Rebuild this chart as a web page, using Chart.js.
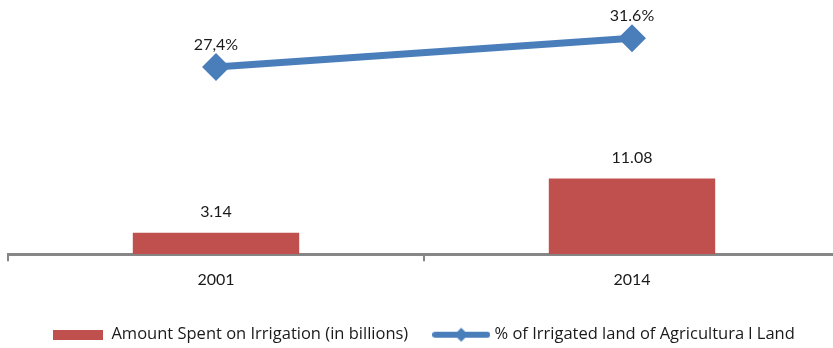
<!DOCTYPE html>
<html>
<head>
<meta charset="utf-8">
<script src="https://cdn.jsdelivr.net/npm/chart.js@4"></script>
<style>
  html, body { margin: 0; padding: 0; background: #fff; overflow: hidden; }
</style>
</head>
<body>
<canvas id="chart" width="848" height="348"></canvas>
<script>
const years = ['2001', '2014']
const spent = [3.14, 11.08]
const irrigatedPct = [27.4, 31.6]
const spentLabels = ['3.14', '11.08']
const pctLabels = ['27,4%', '31.6%']

const RED = '#C0504D'
const BLUE = '#4A7EBB'
const FONT = 'Lato, "Open Sans", sans-serif'
const LEGEND_FONT = '"Open Sans", Lato, sans-serif'

// legend icons
const barIcon = document.createElement('canvas')
barIcon.width = 50; barIcon.height = 10
let c = barIcon.getContext('2d')
c.fillStyle = RED
c.fillRect(0, 0, 50, 10)

const lineIcon = document.createElement('canvas')
lineIcon.width = 58; lineIcon.height = 16
c = lineIcon.getContext('2d')
c.strokeStyle = BLUE; c.lineWidth = 6; c.lineCap = 'round'
c.beginPath(); c.moveTo(3, 8); c.lineTo(55, 8); c.stroke()
c.fillStyle = BLUE
c.beginPath(); c.moveTo(29, 1); c.lineTo(36, 8); c.lineTo(29, 15); c.lineTo(22, 8); c.closePath(); c.fill()

const valueLabels = {
  id: 'valueLabels',
  afterDatasetsDraw(chart) {
    const ctx = chart.ctx
    ctx.save()
    ctx.font = '16px ' + FONT
    ctx.fillStyle = '#1a1a1a'
    ctx.textAlign = 'center'
    ctx.textBaseline = 'middle'
    chart.getDatasetMeta(0).data.forEach((el, i) => {
      ctx.fillText(spentLabels[i], el.x, el.y - 21)
    })
    chart.getDatasetMeta(1).data.forEach((el, i) => {
      ctx.fillText(pctLabels[i], el.x, el.y - 22)
    })
    ctx.restore()
  }
}

new Chart(document.getElementById('chart').getContext('2d'), {
  type: 'bar',
  data: {
    labels: years,
    datasets: [
      {
        label: 'Amount Spent on Irrigation (in billions)',
        data: spent,
        backgroundColor: RED,
        barPercentage: 0.4,
        categoryPercentage: 1,
        order: 2
      },
      {
        type: 'line',
        label: '% of Irrigated land of Agricultura l Land',
        data: irrigatedPct,
        borderColor: BLUE,
        backgroundColor: BLUE,
        borderWidth: 7,
        pointStyle: 'rectRot',
        pointRadius: 9,
        pointHoverRadius: 9,
        order: 1
      }
    ]
  },
  options: {
    responsive: false,
    animation: false,
    layout: { autoPadding: false, padding: { left: 8, right: 8, top: 15, bottom: -5 } },
    scales: {
      x: {
        offset: true,
        grid: {
          offset: true,
          drawOnChartArea: false,
          drawTicks: true,
          tickLength: 7,
          color: '#868686',
          lineWidth: 2
        },
        border: { color: '#868686', width: 3 },
        ticks: { color: '#1a1a1a', font: { family: FONT, size: 16 }, padding: 9 }
      },
      y: {
        display: false,
        min: 0,
        max: 35
      }
    },
    plugins: {
      tooltip: { enabled: false },
      legend: {
        position: 'bottom',
        labels: {
          usePointStyle: true,
          pointStyleWidth: 50,
          padding: 28,
          color: '#1a1a1a',
          font: { family: LEGEND_FONT, size: 16.5 },
          generateLabels(chart) {
            return chart.data.datasets.map((ds, i) => ({
              text: ds.label,
              pointStyle: i === 0 ? barIcon : lineIcon,
              fontColor: '#1a1a1a',
              datasetIndex: i,
              lineWidth: 0,
              hidden: false
            }))
          }
        }
      }
    }
  },
  plugins: [valueLabels]
})
</script>
</body>
</html>
